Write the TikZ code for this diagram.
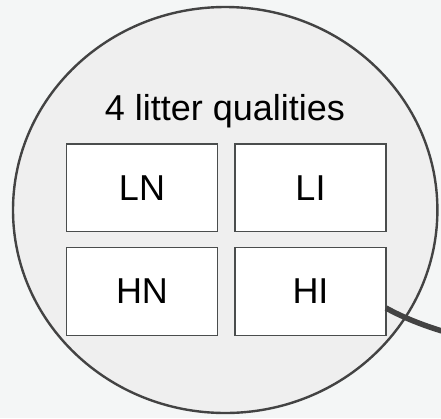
\documentclass[tikz,border=0pt]{standalone}
\usepackage{fontspec}
\setmainfont{Liberation Sans}
\definecolor{bgc}{HTML}{F4F6F6}
\definecolor{circfill}{HTML}{EFEFEF}
\definecolor{darkline}{HTML}{434343}
\definecolor{boxline}{HTML}{4A4D4D}
\begin{document}
\begin{tikzpicture}[x=1pt,y=-1pt,
  qualbox/.style={draw=boxline,line width=1.4pt,fill=white,minimum width=151pt,minimum height=87.5pt,inner sep=0pt,font=\fontsize{36}{36}\selectfont},
  titletext/.style={font=\fontsize{36}{36}\selectfont,inner sep=0pt,anchor=base}]
\fill[bgc] (0,0) rectangle (441,418);
\useasboundingbox (0,0) rectangle (441,418);
\draw[darkline,fill=circfill,line width=2.4pt] (225.2,210) ellipse [x radius=212.2, y radius=203];
\node[titletext] (title) at (225,120.5) {4 litter qualities};
\node[qualbox] (LN) at (142,187.75) {LN};
\node[qualbox] (LI) at (310.5,187.75) {LI};
\node[qualbox] (HN) at (142,291.5) {HN};
\node[qualbox] (HI) at (310.5,291.5) {HI};
\coordinate (off) at (442,331);
\draw[darkline,line width=5.5pt] ([yshift=-16.5pt,xshift=-0.7pt]HI.east) .. controls +(18,10) and +(-18,-5.5) .. (off);
\end{tikzpicture}
\end{document}
